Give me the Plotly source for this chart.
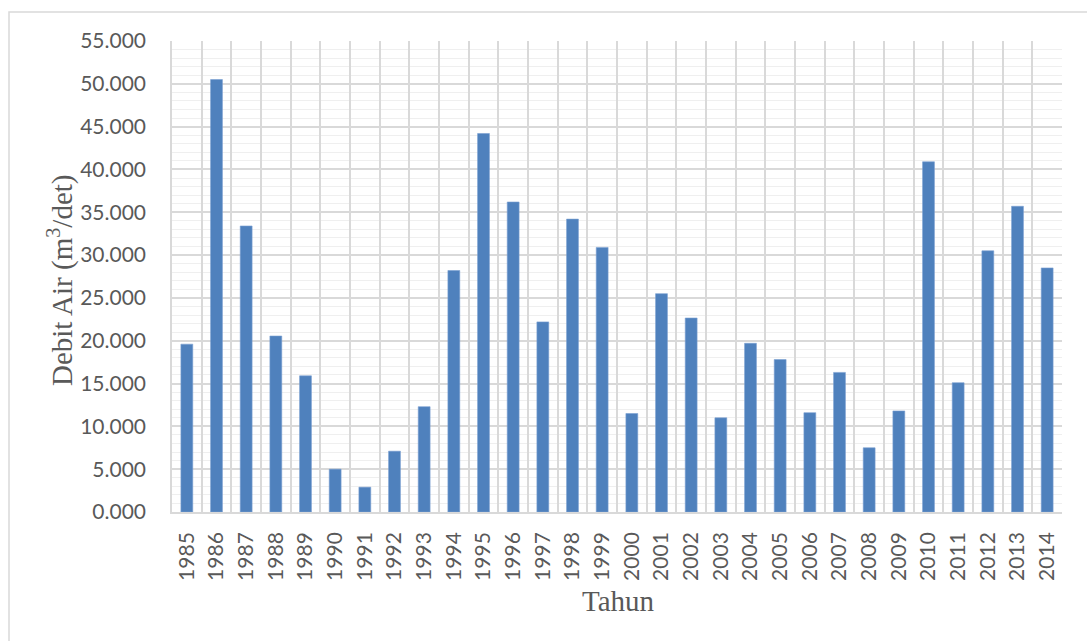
import plotly.graph_objects as go

# Annual water discharge, 1985-2014
tahun = [str(y) for y in range(1985, 2015)]
debit = [19.6, 50.5, 33.4, 20.55, 15.9, 5.0, 2.9, 7.1, 12.3, 28.2,
         44.2, 36.2, 22.2, 34.2, 30.9, 11.5, 25.5, 22.65, 11.0, 19.7,
         17.8, 11.6, 16.3, 7.5, 11.8, 40.9, 15.1, 30.5, 35.7, 28.5]

W, H = 1087, 641
ML, MR, MT, MB = 172, 25, 41, 129
pw, ph = W - ML - MR, H - MT - MB

def px_x(px):
    return (px - ML) / pw

def px_y(py):
    return (H - MB - py) / ph

fig = go.Figure(
    go.Bar(
        x=tahun,
        y=debit,
        marker=dict(color="#4F81BD", line=dict(color="#7BA0D2", width=0.6)),
    )
)

tick_font = dict(family="Lato, 'Open Sans', sans-serif", size=21, color="#595959")
title_font = dict(family="'Liberation Serif', 'Times New Roman', serif", size=29, color="#595959")

fig.update_layout(
    width=W,
    height=H,
    margin=dict(l=ML, r=MR, t=MT, b=MB),
    paper_bgcolor="white",
    plot_bgcolor="white",
    bargap=0.6,
    showlegend=False,
    shapes=[
        dict(
            type="rect", xref="paper", yref="paper",
            x0=px_x(9), x1=px_x(W + 10), y0=px_y(H + 10), y1=px_y(12),
            line=dict(color="#D9D9D9", width=1.5), fillcolor="rgba(0,0,0,0)",
            layer="below",
        )
    ],
    annotations=[
        dict(
            text="Tahun", xref="paper", yref="paper",
            x=px_x(618), y=px_y(601), xanchor="center", yanchor="middle",
            showarrow=False, font=title_font,
        ),
        dict(
            text="Debit Air (m<sup>3</sup>/det)", xref="paper", yref="paper",
            x=px_x(60), y=px_y(280), xanchor="center", yanchor="middle",
            textangle=-90, showarrow=False, font=title_font,
        ),
    ],
)

fig.update_xaxes(
    type="category",
    tickson="boundaries",
    ticks="",
    showgrid=True,
    gridcolor="#D9D9D9",
    gridwidth=1.5,
    showline=True,
    linecolor="#D9D9D9",
    linewidth=1.5,
    tickangle=-90,
    tickfont=tick_font,
    ticklabelstandoff=10,
    range=[-0.5, len(tahun) - 0.5],
)

fig.update_yaxes(
    range=[0, 55],
    dtick=5,
    tickformat=".3f",
    showgrid=True,
    gridcolor="#D9D9D9",
    gridwidth=1.5,
    minor=dict(dtick=1, showgrid=True, gridcolor="#EFEFEF", gridwidth=1.3),
    showline=True,
    linecolor="#D9D9D9",
    linewidth=1.5,
    zeroline=False,
    ticks="",
    tickfont=tick_font,
    ticklabelstandoff=20,
)

fig.write_html("out.html")
